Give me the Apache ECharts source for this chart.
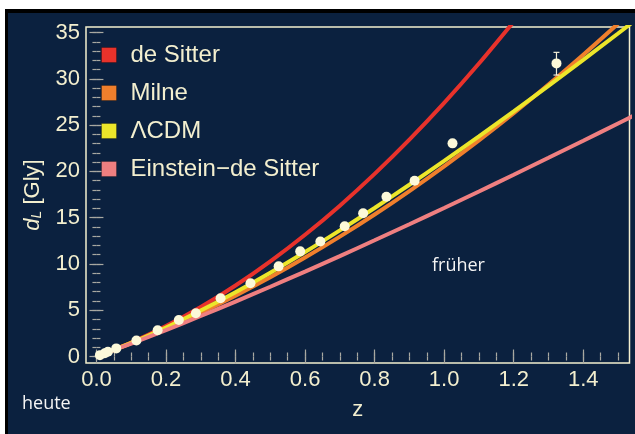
<!DOCTYPE html>
<html>
<head>
<meta charset="utf-8">
<script src="https://cdn.jsdelivr.net/npm/echarts@6/dist/echarts.min.js"></script>
<style>
  html, body { margin: 0; padding: 0; background: #ffffff; width: 635px; height: 434px; overflow: hidden; }
  #frame { position: absolute; left: 5px; top: 9px; width: 627px; height: 421px; background: #0b213f;
           border-top: 4px solid #000; border-left: 3px solid #000; }
  #chart { position: absolute; left: 0; top: 0; width: 635px; height: 434px; }
</style>
</head>
<body>
<div id="frame"></div>
<div id="chart"></div>
<script>
// ---- data ----
const zSteps   = [0, 0.1, 0.2, 0.3, 0.4, 0.5, 0.6, 0.7, 0.8, 0.9, 1.0, 1.1, 1.2, 1.3, 1.4, 1.5, 1.55];
const deSitter = [0, 1.51, 3.29, 5.34, 7.67, 10.28, 13.15, 16.30, 19.73, 23.43, 27.40, 31.65, 36.17];
const milne    = [0, 1.44, 3.01, 4.73, 6.58, 8.56, 10.69, 12.95, 15.34, 17.88, 20.55, 23.36, 26.30, 29.39, 32.61, 35.96, 37.69];
const lcdm     = [0, 1.47, 3.14, 4.97, 6.95, 9.06, 11.29, 13.63, 16.05, 18.56, 21.14, 23.78, 26.49, 29.24, 32.05, 34.90, 36.34];
const eds      = [0, 1.40, 2.86, 4.38, 5.94, 7.54, 9.18, 10.85, 12.56, 14.29, 16.05, 17.83, 19.64, 21.47, 23.31, 25.18, 26.12];

const obsZ = [0.010, 0.024, 0.033, 0.057, 0.115, 0.176, 0.237, 0.286, 0.357, 0.443, 0.524, 0.586, 0.644, 0.714, 0.767, 0.834, 0.915, 1.024, 1.323];
const obsD = [0.15, 0.35, 0.52, 0.88, 1.73, 2.83, 3.94, 4.67, 6.29, 7.91, 9.74, 11.36, 12.42, 14.07, 15.47, 17.26, 18.99, 23.03, 31.67];
const errZ = [1.323];
const errLow = [30.41];
const errHigh = [32.86];

const seriesNames = ['de Sitter', 'Milne', 'ΛCDM', 'Einstein−de Sitter'];
const seriesColors = ['#e8322b', '#f07f2c', '#ece62a', '#ef7f80'];

const xMajor = [0, 0.2, 0.4, 0.6, 0.8, 1.0, 1.2, 1.4];
const xMinor = [];
for (let i = 0; i <= 30; i++) xMinor.push(+(i * 0.05).toFixed(2));
const yMajor = [0, 5, 10, 15, 20, 25, 30, 35];
const yMinor = [];
for (let i = 0; i <= 35; i++) yMinor.push(i);

const X_MIN = -0.030, X_MAX = 1.533, Y_MIN = -0.70, Y_MAX = 35.6;

// ---- styling ----
const cream = '#f3efcf';
const tickCol = '#a9a9a2';
const font = '"Liberation Sans", Arial, sans-serif';

function pairs(vals) { return vals.map((v, i) => [zSteps[i], v]); }

function xAxisDef(pos, ticks, len, labels) {
  return {
    type: 'value', min: X_MIN, max: X_MAX, position: pos, offset: 0,
    axisLine: { show: false }, splitLine: { show: false },
    axisTick: { show: true, inside: true, length: len, customValues: ticks, lineStyle: { color: tickCol, width: 1.2 } },
    axisLabel: labels ? { show: true, customValues: xMajor, formatter: v => v.toFixed(1), color: cream, fontSize: 22, fontFamily: font, margin: 6 } : { show: false }
  };
}
function yAxisDef(pos, ticks, len, labels) {
  return {
    type: 'value', min: Y_MIN, max: Y_MAX, position: pos, offset: 0,
    axisLine: { show: false }, splitLine: { show: false },
    axisTick: { show: true, inside: true, length: len, customValues: ticks, lineStyle: { color: tickCol, width: 1.2 } },
    axisLabel: labels ? { show: true, customValues: yMajor, formatter: v => String(v), color: cream, fontSize: 22, fontFamily: font, margin: 6 } : { show: false }
  };
}

const xAxes = [xAxisDef('bottom', xMajor, 7, true), xAxisDef('bottom', xMinor, 4, false), xAxisDef('top', xMajor, 7, false), xAxisDef('top', xMinor, 4, false)];
xAxes[0].name = 'z';
xAxes[0].nameLocation = 'middle';
xAxes[0].nameGap = 36;
xAxes[0].nameTextStyle = { color: cream, fontSize: 22, fontFamily: font };

const yAxes = [yAxisDef('left', yMajor, 7, true), yAxisDef('left', yMinor, 4, false), yAxisDef('right', yMajor, 7, false), yAxisDef('right', yMinor, 4, false)];

const lineSeries = [deSitter, milne, lcdm, eds].map((vals, i) => ({
  name: seriesNames[i], type: 'line', data: pairs(vals), smooth: 0.3, showSymbol: false, symbol: 'none',
  lineStyle: { color: seriesColors[i], width: 4 }, itemStyle: { color: seriesColors[i] }, clip: true, z: 2 + i
}));

const option = {
  backgroundColor: 'transparent',
  animation: false,
  grid: { left: 86, right: 5.5, top: 27, bottom: 71, show: true, borderColor: cream, borderWidth: 1.5, backgroundColor: 'transparent' },
  xAxis: xAxes,
  yAxis: yAxes,
  legend: {
    data: seriesNames.map((n, i) => ({ name: n, itemStyle: { color: seriesColors[i], borderColor: 'rgba(0,0,0,0.25)', borderWidth: 1 } })),
    orient: 'vertical', left: 101, top: 43, padding: 0, itemGap: 14,
    icon: 'rect', itemWidth: 15, itemHeight: 15,
    textStyle: { color: cream, fontSize: 24, fontFamily: font, padding: [0, 0, 0, 9] },
    selectedMode: false
  },
  series: lineSeries.concat([
    {
      name: 'Messwerte', type: 'scatter', data: obsZ.map((z, i) => [z, obsD[i]]),
      symbolSize: 10, itemStyle: { color: '#fcf9d9', opacity: 1 }, z: 10
    },
    {
      name: 'Fehler', type: 'custom', z: 9,
      data: errZ.map((z, i) => [z, errLow[i], errHigh[i]]),
      renderItem: function (params, api) {
        const lo = api.coord([api.value(0), api.value(1)]);
        const hi = api.coord([api.value(0), api.value(2)]);
        const st = { stroke: '#f3efd8', lineWidth: 1.2 };
        return { type: 'group', children: [
          { type: 'line', shape: { x1: lo[0], y1: lo[1], x2: hi[0], y2: hi[1] }, style: st },
          { type: 'line', shape: { x1: lo[0] - 3, y1: lo[1], x2: lo[0] + 3, y2: lo[1] }, style: st },
          { type: 'line', shape: { x1: hi[0] - 3, y1: hi[1], x2: hi[0] + 3, y2: hi[1] }, style: st }
        ] };
      }
    }
  ]),
  graphic: [
    { type: 'text', x: 33, y: 195, rotation: Math.PI / 2,
      style: {
        text: '{d|d}{s|L} [Gly]', fill: cream, align: 'center', verticalAlign: 'middle',
        rich: {
          d: { fontSize: 22, fontStyle: 'italic', fontFamily: font, fill: cream },
          s: { fontSize: 14, fontStyle: 'italic', fontFamily: font, fill: cream, verticalAlign: 'bottom', padding: [8, 0, 0, 0] }
        },
        font: '22px ' + font
      } },
    { type: 'text', x: 22, y: 404, style: { text: 'heute', fill: '#f4f4f4', font: '18px "Open Sans", sans-serif', verticalAlign: 'middle', align: 'left' } },
    { type: 'text', x: 432, y: 266, style: { text: 'früher', fill: '#f4f4f4', font: '18px "Open Sans", sans-serif', verticalAlign: 'middle', align: 'left' } }
  ]
};

const chart = echarts.init(document.getElementById('chart'), null, { renderer: 'canvas' });
chart.setOption(option);
</script>
</body>
</html>
